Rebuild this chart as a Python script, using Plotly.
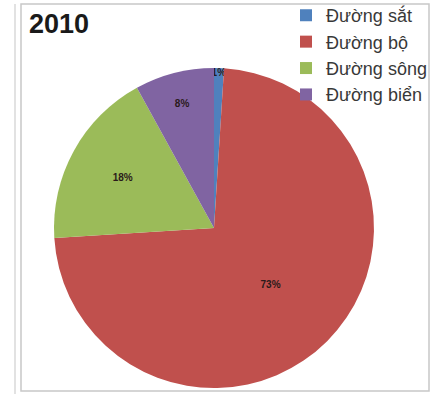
import plotly.graph_objects as go

labels = ["Đường sắt", "Đường bộ", "Đường sông", "Đường biển"]
values = [1, 73, 18, 8]
colors = ["#4F81BD", "#C0504D", "#9BBB59", "#8064A2"]
title_text = "2010"

W, H = 440, 394

def px(x):
    return x / W

def py(y):
    return 1 - y / H

cx, cy, r = 214, 228, 160

fig = go.Figure(go.Pie(
    labels=labels,
    values=values,
    sort=False,
    direction="clockwise",
    rotation=0,
    marker=dict(colors=colors, line=dict(width=0)),
    textinfo="percent",
    textposition="inside",
    insidetextorientation="horizontal",
    textfont=dict(family="Liberation Sans, Arial, sans-serif", size=10, color="#2a1a1a", weight="bold"),
    domain=dict(x=[px(cx - r), px(cx + r)], y=[py(cy + r), py(cy - r)]),
    hoverinfo="label+percent",
))

fig.update_layout(
    width=W, height=H,
    margin=dict(l=0, r=0, t=0, b=0, autoexpand=False),
    paper_bgcolor="white",
    plot_bgcolor="white",
    uniformtext=dict(minsize=10, mode="show"),
    showlegend=True,
    legend=dict(
        x=px(286), y=1.0075, xanchor="left", yanchor="top",
        bgcolor="rgba(0,0,0,0)",
        font=dict(family="Liberation Sans, Arial, sans-serif", size=18, color="#383838"),
        itemwidth=30,
    ),
    annotations=[dict(
        text="<b>" + title_text + "</b>", xref="paper", yref="paper",
        x=px(27), y=py(24), xanchor="left", yanchor="middle", showarrow=False,
        font=dict(family="Liberation Sans, Arial, sans-serif", size=27, color="#1a1a1a"),
    )],
    shapes=[
        dict(type="rect", xref="paper", yref="paper", x0=px(21), x1=px(429), y0=py(391), y1=py(4),
             line=dict(color="#C8C8C8", width=1.5)),
        dict(type="line", xref="paper", yref="paper", x0=px(15), x1=px(15), y0=py(394), y1=py(4),
             line=dict(color="#D8D8D8", width=1.5)),
    ],
)

fig.write_html("out.html", config={"displayModeBar": False},
               post_script="document.body.style.margin='0';")
